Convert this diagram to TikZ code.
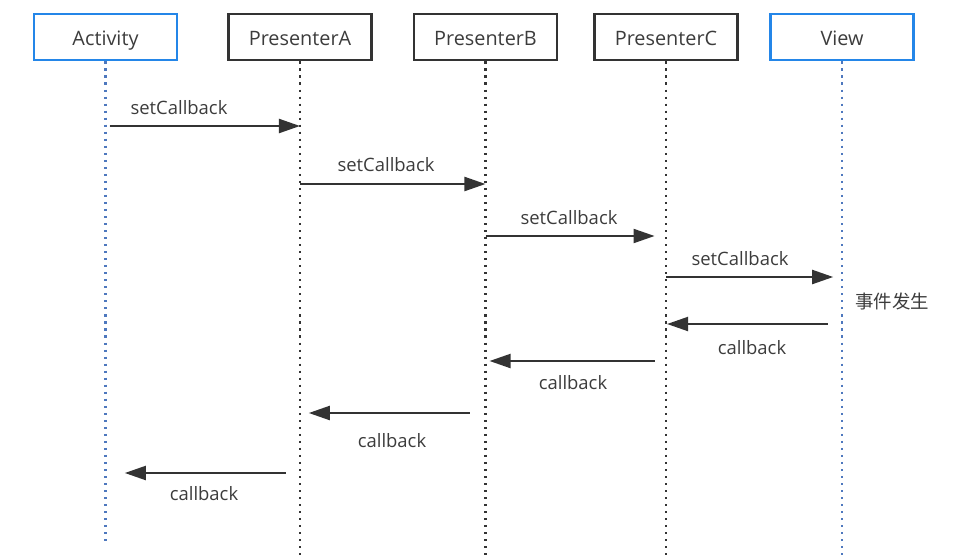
\documentclass[tikz,border=0pt]{standalone}
\usepackage{fontspec}
\setmainfont{Open Sans}
\newfontfamily\cjk{Noto Sans CJK SC}
\usepackage{tikz}
\usetikzlibrary{arrows.meta}
\usepackage{xcolor}
\definecolor{boxblue}{RGB}{36,134,232}
\definecolor{lineblue}{RGB}{78,120,190}
\definecolor{ink}{RGB}{51,51,51}
\definecolor{txt}{RGB}{60,60,60}

\begin{document}
\begin{tikzpicture}[x=0.02cm,y=-0.02cm,>={Triangle[length=12pt,width=8pt]},
  font=\fontsize{10.5}{12}\selectfont,
  obj/.style={draw=ink,line width=1.6pt,minimum width=2.86cm,minimum height=0.92cm,text=txt,inner sep=0pt,
    text height=0.92em,text depth=0pt,font=\fontsize{11.3}{13}\selectfont},
  objblue/.style={obj,draw=boxblue},
  life/.style={draw=ink,line width=1.5pt,dash pattern=on 1.2pt off 2.8pt},
  lifeblue/.style={life,draw=lineblue},
  msg/.style={->,draw=ink,fill=ink,line width=1.2pt},
  lbl/.style={text=txt,inner sep=0pt}]
\useasboundingbox (0,0) rectangle (980,558);
\node[objblue] (act) at (105.5,37) {Activity};
\node[obj] (pa) at (300,37) {PresenterA};
\node[obj] (pb) at (485.5,37) {PresenterB};
\node[obj] (pc) at (666,37) {PresenterC};
\node[objblue] (view) at (842,37) {View};
\draw[lifeblue] (act.south) -- ++(0,480);
\draw[life] (pa.south) -- ++(0,500);
\draw[life] (pb.south) -- ++(0,500);
\draw[life] (pc.south) -- ++(0,500);
\draw[lifeblue] (view.south) -- ++(0,500);
% setCallback
\coordinate (r1) at (0,126);
\coordinate (r2) at (0,184);
\coordinate (r3) at (0,236);
\coordinate (r4) at (0,277);
\draw[msg,shorten <=2.3pt] (act |- r1) -- (pa |- r1);
\draw[msg] (pa |- r2) -- (pb |- r2);
\draw[msg,shorten >=6.5pt] (pb |- r3) -- (pc |- r3);
\draw[msg,shorten >=5pt] (pc |- r4) -- (view |- r4);
\node[lbl] (l1) at (179,108) {setCallback};
\node[lbl] (l2) at (386,165) {setCallback};
\node[lbl] (l3) at (569,218) {setCallback};
\node[lbl] (l4) at (740,259) {setCallback};
\node[lbl] (ev) at (892,301) {\cjk 事件发生};
% callback
\coordinate (r5) at (0,324);
\coordinate (r6) at (0,361);
\coordinate (r7) at (0,413);
\coordinate (r8) at (0,473);
\draw[msg,shorten <=8pt,shorten >=0.6pt] (view |- r5) -- (pc |- r5);
\draw[msg,shorten <=6.5pt,shorten >=2.3pt] (pc |- r6) -- (pb |- r6);
\draw[msg,shorten <=9pt,shorten >=5pt] (pb |- r7) -- (pa |- r7);
\draw[msg,shorten <=8pt,shorten >=11pt] (pa |- r8) -- (act |- r8);
\node[lbl] (l5) at (752,348) {callback};
\node[lbl] (l6) at (573,383) {callback};
\node[lbl] (l7) at (392,441) {callback};
\node[lbl] (l8) at (204,494) {callback};
\end{tikzpicture}
\end{document}
